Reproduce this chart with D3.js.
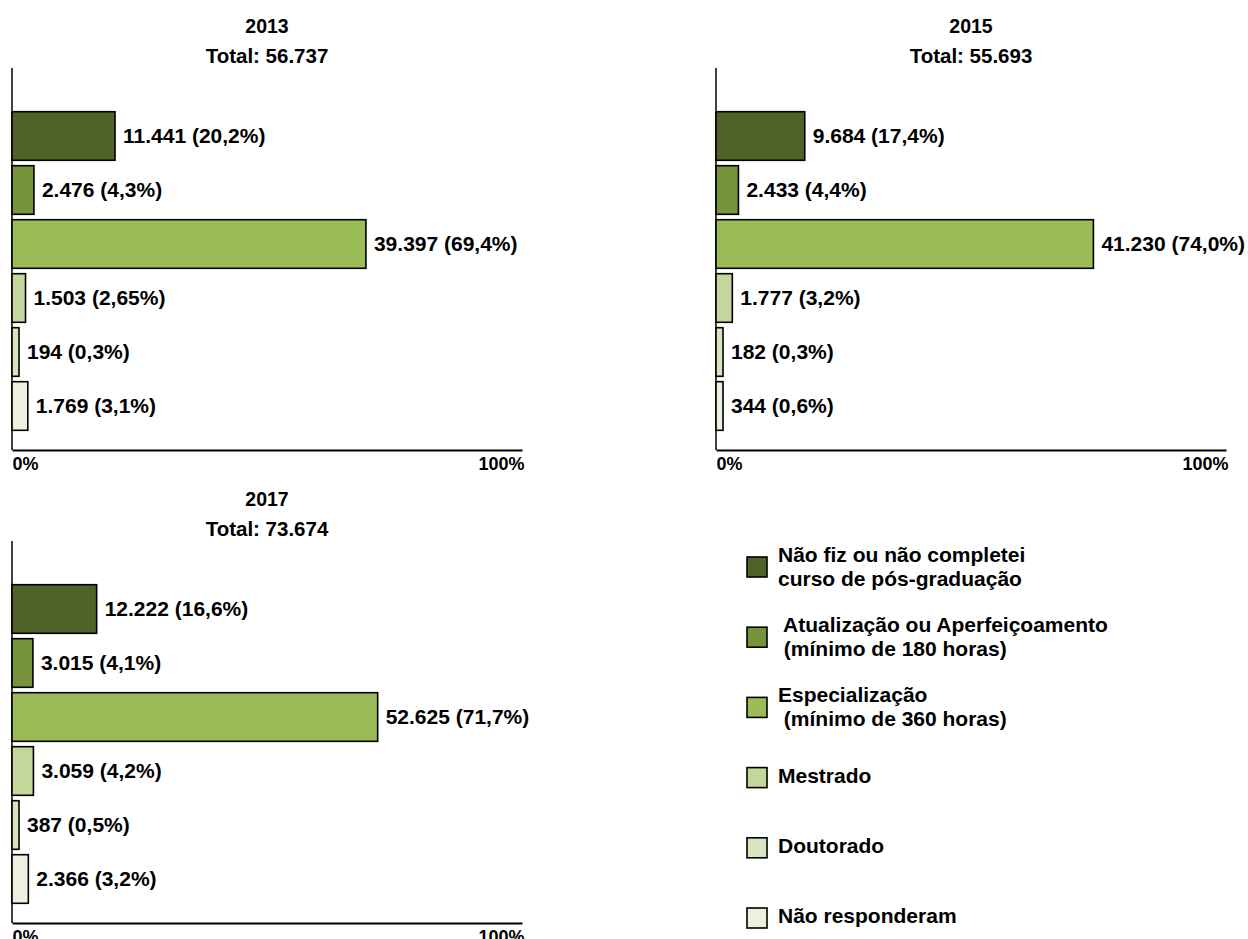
<!DOCTYPE html>
<html lang="pt-BR">
<head>
<meta charset="utf-8">
<title>Pós-graduação dos professores — 2013, 2015, 2017</title>
<script src="https://cdn.jsdelivr.net/npm/d3@7"></script>
<style>
  html, body { margin: 0; padding: 0; background: #ffffff; }
  svg { display: block; font-family: "Liberation Sans", Arial, Helvetica, sans-serif; font-weight: bold; }
</style>
</head>
<body>
<svg id="chart" width="1248" height="939"></svg>
<script>
// Categories (one bar per category, top to bottom)
const categories = [
  "Não fiz ou não completei curso de pós-graduação",
  "Atualização ou Aperfeiçoamento (mínimo de 180 horas)",
  "Especialização (mínimo de 360 horas)",
  "Mestrado",
  "Doutorado",
  "Não responderam"
];

// Legend text, split into the lines it is written on
const legendLines = [
  ["Não fiz ou não completei", "curso de pós-graduação"],
  [" Atualização ou Aperfeiçoamento", " (mínimo de 180 horas)"],
  ["Especialização", " (mínimo de 360 horas)"],
  ["Mestrado"],
  ["Doutorado"],
  ["Não responderam"]
];

const colors = ["#4f6228", "#77933c", "#9bbb59", "#c3d69b", "#d7e4bd", "#ebf1de"];

// Survey years and totals
const years = ["2013", "2015", "2017"];
const totals = [56737, 55693, 73674];

// Counts and shares (%) per category
const counts2013 = [11441, 2476, 39397, 1503, 194, 1769];
const pct2013    = [20.2, 4.3, 69.4, 2.65, 0.3, 3.1];

const counts2015 = [9684, 2433, 41230, 1777, 182, 344];
const pct2015    = [17.4, 4.4, 74.0, 3.2, 0.3, 0.6];

const counts2017 = [12222, 3015, 52625, 3059, 387, 2366];
const pct2017    = [16.6, 4.1, 71.7, 4.2, 0.5, 3.2];

// Axis tick labels
const tickValues = [0, 100];

const seriesCounts = [counts2013, counts2015, counts2017];
const seriesPct = [pct2013, pct2015, pct2017];

// Brazilian number formatting
const ptBR = d3.formatLocale({ decimal: ",", thousands: ".", grouping: [3], currency: ["R$", ""] });
const fmtInt = ptBR.format(",d");
const fmtPct = p => {
  const dec = Math.max(1, (String(p).split(".")[1] || "").length);
  return ptBR.format("." + dec + "f")(p);
};

const svg = d3.select("#chart");

// Panel placement
const panelOrigins = [[12, 0], [716, 0], [12, 473]];
const plotWidth = 510;
const axisTop = 68, axisBottom = 450;
const minBarWidth = 7;

const x = d3.scaleLinear().domain([0, 100]).range([0, plotWidth]);
const y = d3.scaleBand().domain(categories).range([109, 433]).paddingInner(0.1).paddingOuter(0.05);

years.forEach((year, i) => {
  const [ox, oy] = panelOrigins[i];
  const g = svg.append("g").attr("transform", `translate(${ox},${oy})`);
  const rows = categories.map((c, k) => ({ cat: c, count: seriesCounts[i][k], pct: seriesPct[i][k], color: colors[k] }));

  // Titles
  g.append("text")
    .attr("x", plotWidth / 2).attr("y", 33)
    .attr("text-anchor", "middle").attr("font-size", 19.5)
    .text(year);
  g.append("text")
    .attr("x", plotWidth / 2).attr("y", 63)
    .attr("text-anchor", "middle").attr("font-size", 20.5)
    .text("Total: " + fmtInt(totals[i]));

  // Vertical axis line
  g.append("line")
    .attr("x1", 0).attr("x2", 0)
    .attr("y1", axisTop).attr("y2", axisBottom)
    .attr("stroke", "#000").attr("stroke-width", 1.5);

  // Bars
  g.selectAll("rect.bar").data(rows).join("rect")
    .attr("class", "bar")
    .attr("x", 0)
    .attr("y", d => y(d.cat))
    .attr("width", d => Math.max(x(d.pct), minBarWidth))
    .attr("height", y.bandwidth())
    .attr("fill", d => d.color)
    .attr("stroke", "#000")
    .attr("stroke-width", 1.6);

  // Value labels
  g.selectAll("text.value").data(rows).join("text")
    .attr("class", "value")
    .attr("x", d => Math.max(x(d.pct), minBarWidth) + 8)
    .attr("y", d => y(d.cat) + y.bandwidth() / 2 + 7)
    .attr("font-size", 21)
    .style("white-space", "pre")
    .text(d => `${fmtInt(d.count)} (${fmtPct(d.pct)}%)`);

  // Horizontal axis
  const ax = g.append("g")
    .attr("transform", `translate(0,${axisBottom})`)
    .call(d3.axisBottom(x).tickValues(tickValues).tickSize(0).tickSizeOuter(0).tickFormat(d => d + "%"));
  ax.select(".domain").attr("stroke", "#000").attr("stroke-width", 1.8);
  ax.selectAll(".tick text")
    .attr("y", 20).attr("dy", 0)
    .attr("fill", "#000")
    .attr("font-size", 18)
    .attr("font-weight", "bold")
    .attr("font-family", "'Liberation Sans', Arial, sans-serif")
    .attr("text-anchor", d => d === 0 ? "start" : "end")
    .attr("dx", d => d === 0 ? 0 : 2);
});

// Legend
const legendY = d3.scalePoint().domain(categories).range([557, 908]);
const legend = svg.append("g").attr("transform", "translate(747,0)");
const items = legend.selectAll("g.item").data(categories.map((c, k) => ({ cat: c, lines: legendLines[k], color: colors[k] })))
  .join("g").attr("class", "item")
  .attr("transform", d => `translate(0,${legendY(d.cat)})`);

items.append("rect")
  .attr("width", 20).attr("height", 20)
  .attr("fill", d => d.color)
  .attr("stroke", "#000").attr("stroke-width", 1.6);

items.append("text")
  .attr("font-size", 21)
  .style("white-space", "pre")
  .selectAll("tspan").data(d => d.lines.map((t, j) => ({ t, j, n: d.lines.length })))
  .join("tspan")
  .attr("x", 31)
  .attr("y", d => d.n > 1 ? 5 + d.j * 24 : 15)
  .text(d => d.t);
</script>
</body>
</html>
